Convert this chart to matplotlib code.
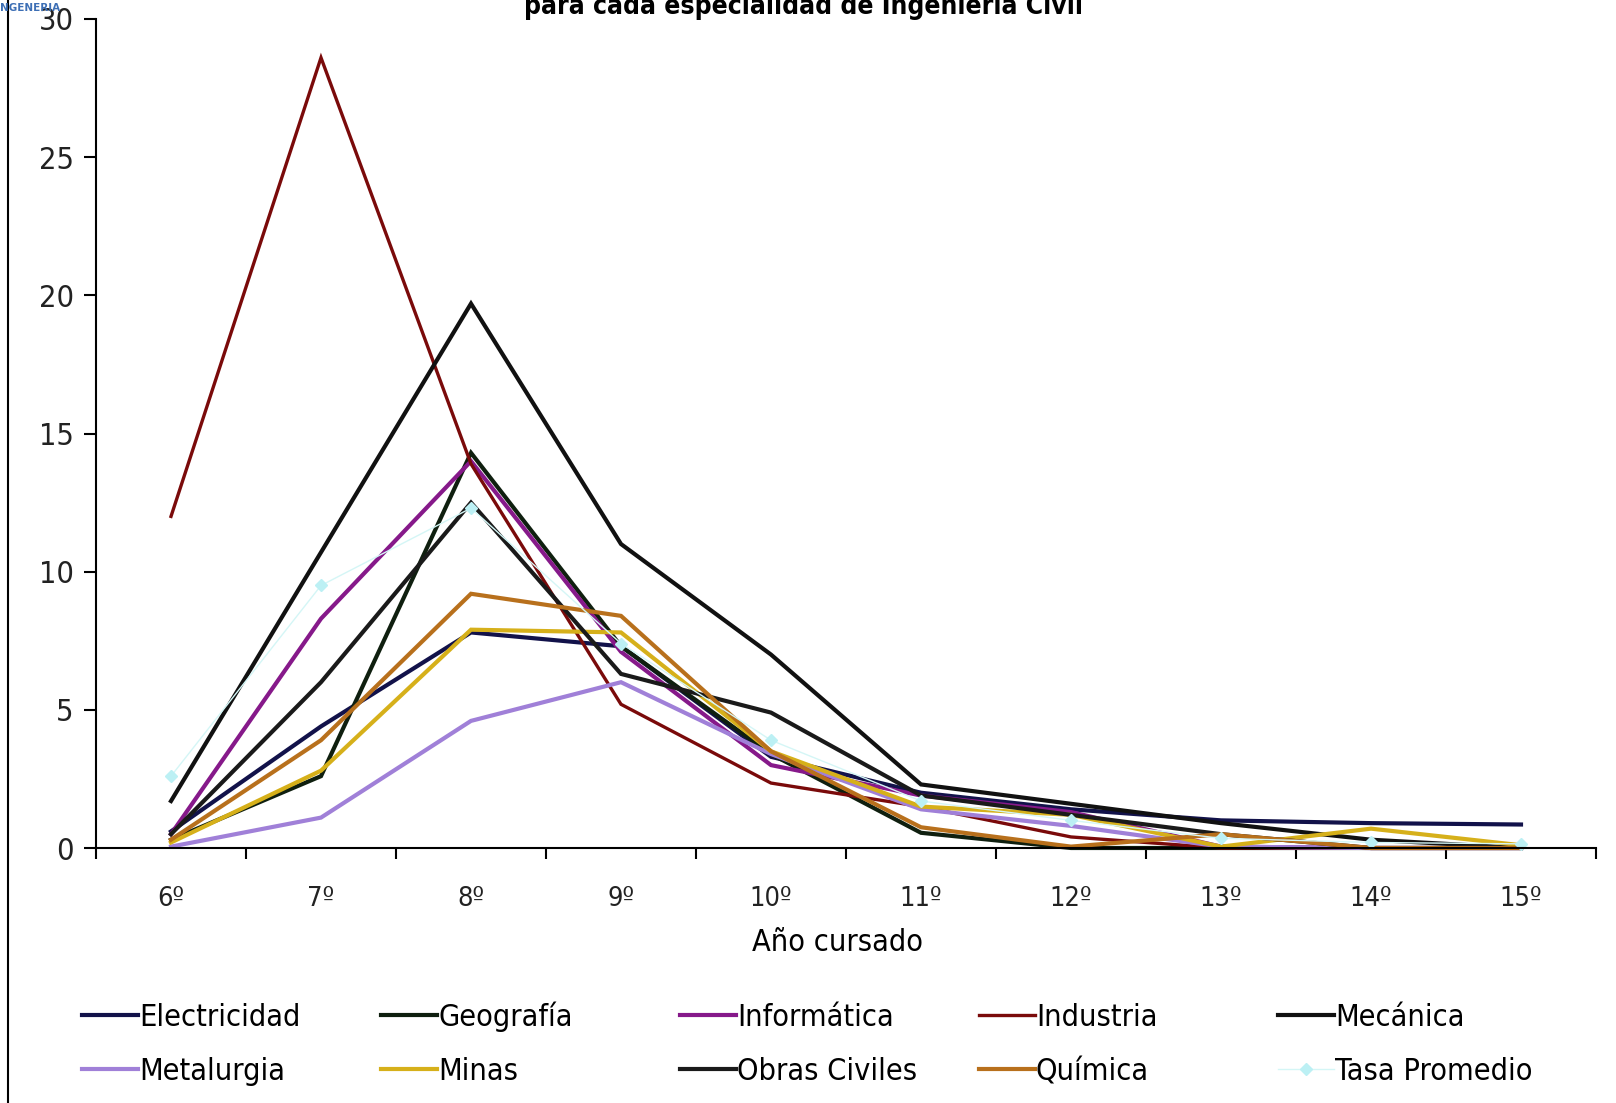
import matplotlib
matplotlib.use("Agg")
import matplotlib.pyplot as plt
from matplotlib import font_manager
from matplotlib.lines import Line2D

# Año cursado (categorías del eje x)
anios = ["6º", "7º", "8º", "9º", "10º", "11º", "12º", "13º", "14º", "15º"]

# tasa por especialidad
electricidad = [0.6, 4.4, 7.8, 7.3, 3.3, 2.0, 1.4, 1.0, 0.9, 0.85]
geografia = [0.3, 2.6, 14.3, 7.3, 3.4, 0.55, 0.0, 0.0, 0.0, 0.0]
informatica = [0.5, 8.3, 14.0, 7.1, 3.0, 1.9, 1.3, 0.05, 0.0, 0.0]
industria = [12.0, 28.6, 13.9, 5.2, 2.35, 1.5, 0.4, 0.0, 0.0, 0.0]
mecanica = [1.7, 10.7, 19.7, 11.0, 7.0, 2.3, 1.6, 0.9, 0.3, 0.0]
metalurgia = [0.05, 1.1, 4.6, 6.0, 3.4, 1.4, 0.8, 0.05, 0.0, 0.0]
minas = [0.2, 2.8, 7.9, 7.8, 3.5, 1.5, 1.2, 0.05, 0.7, 0.1]
obras_civiles = [0.5, 6.0, 12.5, 6.3, 4.9, 1.9, 1.2, 0.5, 0.0, 0.0]
quimica = [0.3, 3.9, 9.2, 8.4, 3.5, 0.75, 0.05, 0.5, 0.0, 0.0]
tasa_promedio = [2.6, 9.5, 12.3, 7.4, 3.9, 1.7, 1.0, 0.35, 0.2, 0.15]

nombres = ["Electricidad", "Geografía", "Informática", "Industria", "Mecánica",
           "Metalurgia", "Minas", "Obras Civiles", "Química", "Tasa Promedio"]
series = [electricidad, geografia, informatica, industria, mecanica,
          metalurgia, minas, obras_civiles, quimica, tasa_promedio]
colores = ["#12124a", "#0f1f0f", "#86198a", "#7a0a0a", "#111111",
           "#a080d8", "#d6b01a", "#1a1a1a", "#b8701c", "#d4f6f6"]
grosores = [3.0, 3.0, 3.0, 2.4, 3.0, 3.0, 3.0, 3.0, 3.0, 1.0]

# fuente angosta si existe
disponibles = {(f.name, f.stretch) for f in font_manager.fontManager.ttflist}
nombres_fuentes = {n for n, s in disponibles}
if "Liberation Sans Narrow" in nombres_fuentes:
    fuente = dict(family="Liberation Sans Narrow")
    escala = 1.08
elif ("DejaVu Sans", "condensed") in disponibles:
    fuente = dict(family="DejaVu Sans", stretch="condensed")
    escala = 1.0
else:
    fuente = dict(family="Liberation Sans")
    escala = 0.9

fig = plt.figure(figsize=(16.16, 11.03), dpi=100)
ax = fig.add_axes([96 / 1616, 1 - 848 / 1103, 1500 / 1616, (848 - 19) / 1103])

x = list(range(len(anios)))
handles = []
for nombre, valores, color, lw in zip(nombres, series, colores, grosores):
    if nombre == "Tasa Promedio":
        h, = ax.plot(x, valores, color=color, lw=lw, marker="D", markersize=6,
                     markerfacecolor="#bcf0f4", markeredgecolor="#bcf0f4",
                     label=nombre, clip_on=False)
    else:
        h, = ax.plot(x, valores, color=color, lw=lw, label=nombre,
                     solid_joinstyle="miter", clip_on=False)
    handles.append(h)

ax.set_xlim(-0.5, len(anios) - 0.5)
ax.set_ylim(0, 30)
ax.spines["top"].set_visible(False)
ax.spines["right"].set_visible(False)
for s in ("left", "bottom"):
    ax.spines[s].set_linewidth(1.5)

# marcas entre categorías, etiquetas al centro
ax.set_xticks([i - 0.5 for i in range(len(anios) + 1)])
ax.set_xticklabels([])
ax.set_xticks(x, minor=True)
ax.set_xticklabels(anios, minor=True)
ax.tick_params(axis="x", which="major", direction="out", length=8, width=1.5)
ax.tick_params(axis="x", which="minor", length=0, pad=27, labelsize=19.5 * escala,
               labelcolor="#222222")
ax.set_yticks(range(0, 31, 5))
ax.tick_params(axis="y", direction="out", length=9, width=1.5, pad=7,
               labelsize=22 * escala, labelcolor="#222222")
for lab in ax.get_xticklabels(minor=True) + ax.get_yticklabels():
    lab.set(**fuente)

ax.set_xlabel("Año cursado", fontsize=22 * escala, **fuente)
ax.xaxis.set_label_coords(0.4945, -0.096)

fig.text(0.4975, 1 - 14 / 1103, "para cada especialidad de Ingeniería Civil",
         ha="center", va="baseline", fontsize=19 * escala, fontweight="bold", **fuente)
fig.text(0.0, 1 - 8 / 1103, "NGENERIA", ha="left", va="center", fontsize=7.5,
         color="#3d6fb5", fontweight="bold", family="DejaVu Sans")

# borde izquierdo del área del gráfico
fig.add_artist(Line2D([8 / 1616, 8 / 1616], [0, 1], transform=fig.transFigure,
                      color="black", lw=1.5))

# leyenda: 5 columnas x 2 filas, dibujada a mano para alinear filas
col_x = [82, 381, 680, 979, 1278]
fila_y = [1015, 1069]
largo = 56
for i, h in enumerate(handles):
    fila, col = divmod(i, 5)
    x0 = col_x[col] / 1616
    x1 = (col_x[col] + largo) / 1616
    y0 = 1 - fila_y[fila] / 1103
    fig.add_artist(Line2D([x0, x1], [y0, y0], transform=fig.transFigure,
                          color=h.get_color(), lw=h.get_linewidth()))
    if h.get_marker() == "D":
        fig.add_artist(Line2D([(x0 + x1) / 2], [y0], transform=fig.transFigure,
                              marker="D", markersize=6, color="#bcf0f4", lw=0))
    # línea base común para que las filas queden alineadas
    fig.text(x1 + 1 / 1616, y0 - 11 / 1103, h.get_label(), ha="left",
             va="baseline", fontsize=22 * escala, **fuente)

fig.savefig("out.png", dpi=100)
